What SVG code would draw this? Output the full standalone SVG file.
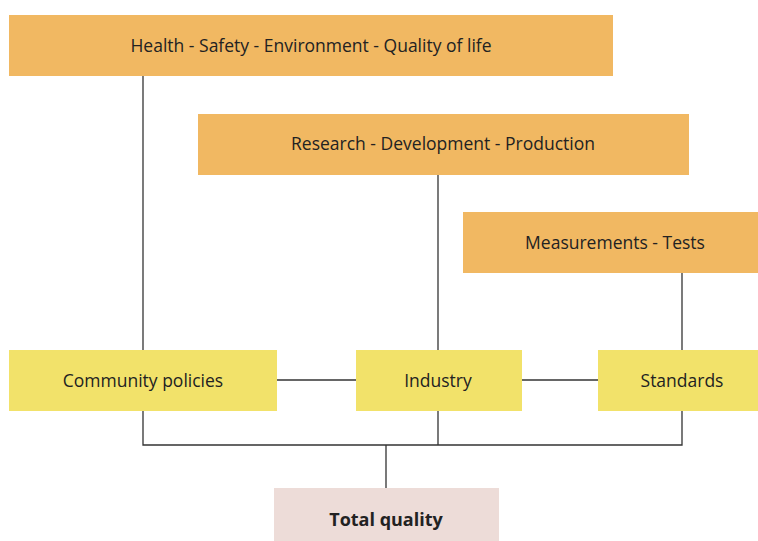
<svg xmlns="http://www.w3.org/2000/svg" width="758" height="541" viewBox="0 0 758 541">
<style>
.o{fill:#f1b862}
.y{fill:#f2e26a}
.p{fill:#eddcd8}
text{font-family:"Open Sans","Noto Sans",sans-serif;font-size:17.5px;fill:#222;text-anchor:middle;dominant-baseline:central}
.b{font-weight:bold;font-size:18px}
.c line,.c path{stroke:#333;stroke-width:1.3;fill:none}
</style>
<rect width="758" height="541" fill="#fff"/>
<g class="c" id="connectors">
<line x1="143" y1="76" x2="143" y2="350"/>
<line x1="438" y1="175" x2="438" y2="350"/>
<line x1="682" y1="273" x2="682" y2="350"/>
<line x1="277" y1="380" x2="356" y2="380"/>
<line x1="522" y1="380" x2="598" y2="380"/>
<path d="M143 411V445H682V411M438 411V445M386 445V488"/>
</g>
<g id="health"><rect class="o" x="9" y="15" width="604" height="61"/><text x="311" y="45">Health - Safety - Environment - Quality of life</text></g>
<g id="research"><rect class="o" x="198" y="114" width="491" height="61"/><text x="443" y="143">Research - Development - Production</text></g>
<g id="measure"><rect class="o" x="463" y="212" width="295" height="61"/><text x="615" y="242">Measurements - Tests</text></g>
<g id="community"><rect class="y" x="9" y="350" width="268" height="61"/><text x="143" y="380">Community policies</text></g>
<g id="industry"><rect class="y" x="356" y="350" width="166" height="61"/><text x="438" y="380">Industry</text></g>
<g id="standards"><rect class="y" x="598" y="350" width="160" height="61"/><text x="682" y="380">Standards</text></g>
<g id="total"><rect class="p" x="274" y="488" width="225" height="53"/><text class="b" x="386" y="519">Total quality</text></g>
</svg>
